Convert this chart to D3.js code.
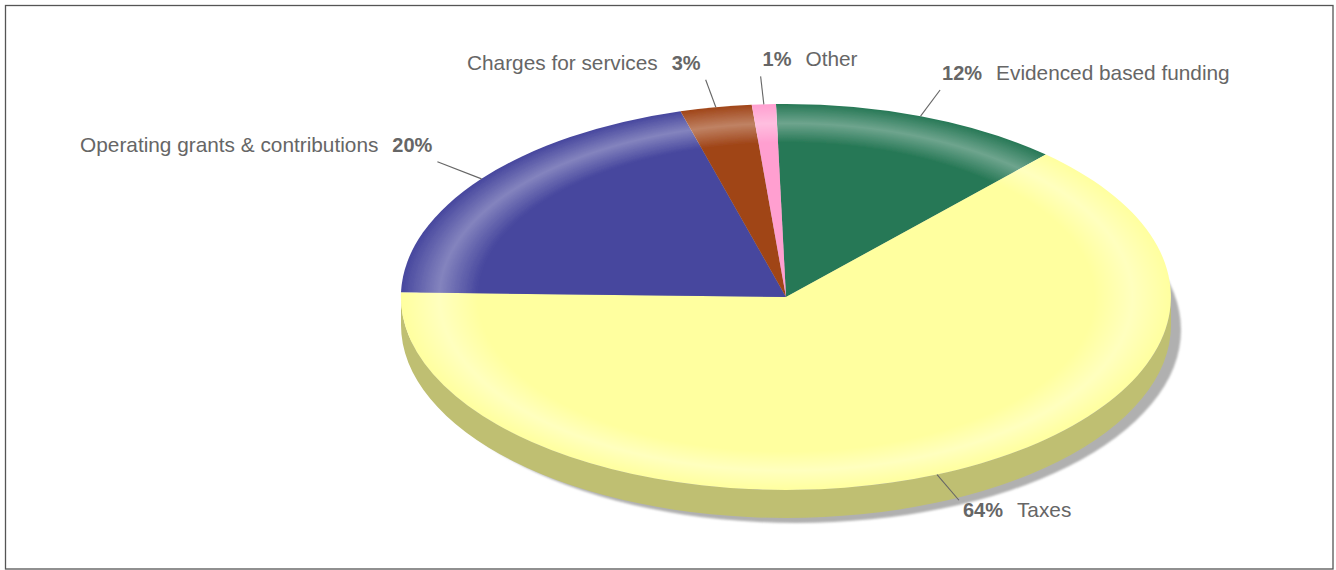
<!DOCTYPE html>
<html>
<meta charset="UTF-8">

<head>
  <script src="https://cdn.jsdelivr.net/npm/d3@7/dist/d3.min.js"></script>
  <style>
    html, body { margin: 0; padding: 0; background: #fff; }
    svg { display: block; }
    text { font-family: "Liberation Sans", Arial, sans-serif; font-size: 20.8px; fill: #666; }
    .pct { font-size: 20px; font-weight: bold; }
  </style>
</head>

<body>
  <svg id="chart" width="1336" height="570"></svg>

  <script type="text/javascript">
    const categories = ["Evidenced based funding", "Taxes", "Operating grants & contributions", "Charges for services", "Other"]
    const shares = [12.2, 63.6, 20.2, 3.0, 1.0]

    const svg = d3.select("#chart")
    const cx = 786, cy = 297, rx = 385, ry = 193
    const depth = 28 / ry
    const unitCircle = `translate(${cx},${cy}) scale(${rx},${ry})`

    const color = d3.scaleOrdinal()
      .domain(categories)
      .range(["#277856", "#ffff9f", "#47479e", "#a04518", "#ff9fd0"])

    // frame
    svg.append("rect")
      .attr("x", 5.5).attr("y", 5.5)
      .attr("width", 1327.5).attr("height", 563.5)
      .attr("fill", "none")
      .attr("stroke", "#555")
      .attr("stroke-width", 1.3)

    const defs = svg.append("defs")

    defs.append("filter").attr("id", "soft")
      .attr("filterUnits", "userSpaceOnUse")
      .attr("x", 0).attr("y", 0).attr("width", 1336).attr("height", 570)
      .append("feGaussianBlur").attr("stdDeviation", 0.8)

    defs.append("filter").attr("id", "edge")
      .attr("filterUnits", "userSpaceOnUse")
      .attr("x", 0).attr("y", 0).attr("width", 1336).attr("height", 570)
      .append("feGaussianBlur").attr("stdDeviation", 0.45)

    const ring = defs.append("radialGradient")
      .attr("id", "ring")
      .attr("gradientUnits", "userSpaceOnUse")
      .attr("cx", 0).attr("cy", 0).attr("r", 1)
    ring.selectAll("stop")
      .data([[0.8, 0], [0.9, 0.33], [1, 0]])
      .enter()
      .append("stop")
      .attr("offset", d => d[0])
      .attr("stop-color", "#fff")
      .attr("stop-opacity", d => d[1])

    const pie = d3.pie()
      .sort(null)
      .startAngle(-1.5 * Math.PI / 180)
      .endAngle((360 - 1.5) * Math.PI / 180)

    const slices = pie(shares)
    slices.forEach((d, i) => d.name = categories[i])

    const arc = d3.arc().innerRadius(0).outerRadius(1)

    // drop shadow
    svg.append("g")
      .attr("filter", "url(#soft)")
      .append("ellipse")
      .attr("transform", unitCircle)
      .attr("cx", 10 / rx).attr("cy", 33 / ry)
      .attr("rx", 1).attr("ry", 1)
      .attr("fill", "#b0b0b0")

    const pieG = svg.append("g")
      .attr("filter", "url(#edge)")
      .append("g")
      .attr("transform", unitCircle)

    // side wall, only the biggest slice faces the front
    pieG.append("path")
      .attr("d", `M-1,0A1,1 0 0 0 1,0L1,${depth}A1,1 0 0 1 -1,${depth}Z`)
      .attr("fill", "#bfbf72")

    pieG.selectAll("path.slice")
      .data(slices)
      .enter()
      .append("path")
      .attr("class", "slice")
      .attr("d", arc)
      .attr("fill", d => color(d.name))

    pieG.append("circle")
      .attr("r", 1)
      .attr("fill", "url(#ring)")

    // labels and leader lines
    const project = (d, r) => {
      const a = (d.startAngle + d.endAngle) / 2
      return [cx + rx * r * Math.sin(a), cy - ry * r * Math.cos(a)]
    }

    const labelG = svg.append("g")

    labelG.selectAll("line")
      .data(slices)
      .enter()
      .append("line")
      .attr("x1", d => project(d, 1)[0])
      .attr("y1", d => project(d, 1)[1])
      .attr("x2", d => project(d, 1.145)[0])
      .attr("y2", d => project(d, 1.145)[1])
      .attr("stroke", "#666")
      .attr("stroke-width", 1.1)

    labelG.selectAll("text")
      .data(slices)
      .enter()
      .append("text")
      .each(function (d) {
        const [x, y] = project(d, 1.145)
        const leftSide = x < cx - 30
        const bottom = y > cy
        const el = d3.select(this)
          .attr("x", leftSide ? x - 5 : x + (bottom ? 4 : 2))
          .attr("y", bottom ? y + 17 : y - 10)
          .attr("text-anchor", leftSide ? "end" : "start")
        const pct = `${Math.round(d.value)}%`
        if (leftSide) {
          el.append("tspan").text(d.name)
          el.append("tspan").attr("dx", 14).attr("class", "pct").text(pct)
        } else {
          el.append("tspan").attr("class", "pct").text(pct)
          el.append("tspan").attr("dx", 14).text(d.name)
        }
      })
  </script>
</body>

</html>
